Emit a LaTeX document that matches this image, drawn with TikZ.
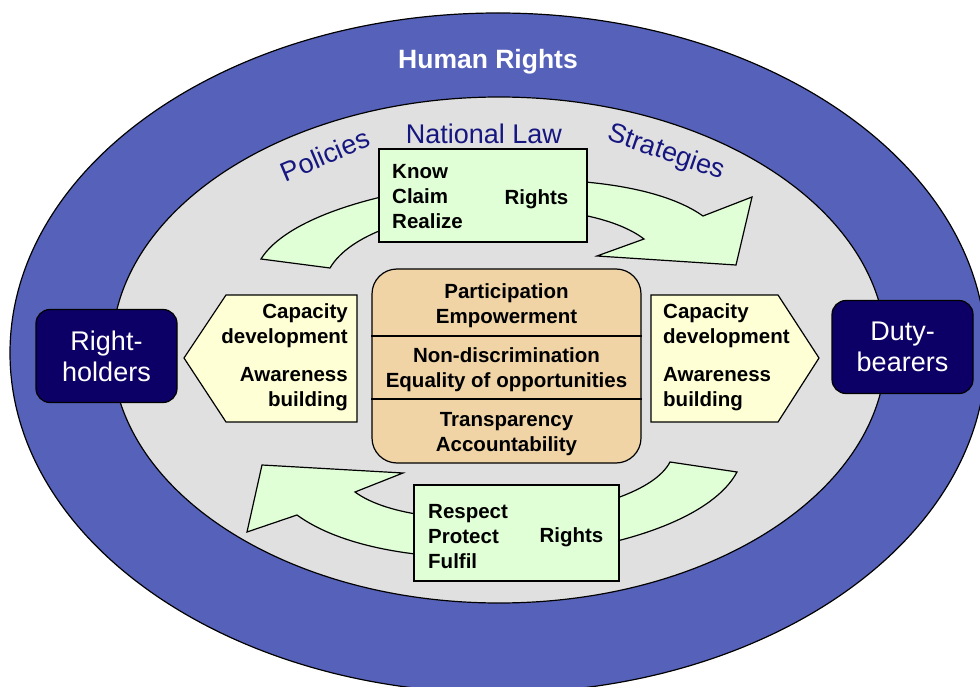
\documentclass[tikz,border=0pt]{standalone}
\usepackage{fontspec}
\setmainfont{Liberation Sans}
\usepackage{xcolor}
\definecolor{hrblue}{RGB}{86,98,186}
\definecolor{hrgray}{RGB}{224,224,224}
\definecolor{hrgreen}{RGB}{224,255,214}
\definecolor{hrsand}{RGB}{240,212,166}
\definecolor{hrcream}{RGB}{255,255,213}
\definecolor{hrnavy}{RGB}{12,0,102}
\definecolor{hrink}{RGB}{22,22,128}

\tikzset{
  body/.style={font=\fontsize{20.5}{25}\selectfont\bfseries, inner sep=0pt},
  band/.style={draw, fill=hrgreen, line width=1.2pt},
  rightsbox/.style={draw, fill=hrgreen, line width=1.2pt, inner sep=0pt},
  actor/.style={draw, fill=hrnavy, text=white, rounded corners=14pt, line width=1.2pt,
    minimum width=141pt, minimum height=93pt, align=center, inner sep=0pt,
    font=\fontsize{27}{31}\selectfont},
  frame/.style={font=\fontsize{27}{30}\selectfont, text=hrink, inner sep=0pt}
}

\begin{document}
\begin{tikzpicture}[x=1pt,y=-1pt]
                \clip (0,0) rectangle (980,687);
                \fill[white] (0,0) rectangle (980,687);

                % rings
                \draw[fill=hrblue, line width=1.2pt] (498,353) ellipse [x radius=488pt, y radius=340pt];
                \draw[fill=hrgray, line width=1.2pt] (499,350) ellipse [x radius=387pt, y radius=253pt];

                \node[font=\fontsize{26.5}{30}\selectfont\bfseries, text=white, inner sep=0pt] (hr) at (488,62) {Human Rights};
                \node[frame] (law) at (484,134) {National Law};
                \node[frame, rotate=23] (policies) at (325,155) {Policies};
                \node[frame, rotate=-19] (strategies) at (666,153) {Strategies};

                % cycle arrows
                \draw[band] (261,259) .. controls (310,180) and (610,150) .. (703,216) -- (752,197) -- (736,265)
                    -- (597,256) -- (644,239) .. controls (580,190) and (370,200) .. (330,268) -- cycle;
                \draw[band] (737,472) .. controls (690,560) and (400,590) .. (297,515) -- (247,532) -- (262,465)
                    -- (403,473) -- (355,492) .. controls (420,540) and (640,520) .. (670,462) -- cycle;

                \node[rightsbox, minimum width=208pt, minimum height=93pt] (know) at (483,195.5) {};
                \node[body, anchor=west, align=left] (knowtxt) at (392,197) {Know\\Claim\\Realize};
                \node[body] (knowrights) at (536.5,199) {Rights};

                \node[rightsbox, minimum width=205pt, minimum height=96pt] (respect) at (516.5,533) {};
                \node[body, anchor=west, align=left] (respecttxt) at (428,537) {Respect\\Protect\\Fulfil};
                \node[body] (respectrights) at (571.5,537) {Rights};

                % principles
                \node[draw, fill=hrsand, rounded corners=25pt, line width=1.2pt, minimum width=269pt, minimum height=194pt] (core) at (506.5,366) {};
                \draw[line width=1.2pt] (core.west |- 0,336) -- (core.east |- 0,336);
                \draw[line width=1.2pt] (core.west |- 0,399) -- (core.east |- 0,399);
                \node[body, align=center] (particip) at (506.5,306) {Participation\\Empowerment};
                \node[body, align=center] (nondisc) at (506.5,370) {Non-discrimination\\Equality of opportunities};
                \node[body, align=center] (transp) at (506.5,434) {Transparency\\Accountability};

                % capacity arrows
                \draw[fill=hrcream, line width=1.2pt] (357,295) -- (226,295) -- (184,358) -- (226,422) -- (357,422) -- cycle;
                \node[body, anchor=east, align=right] (capleft) at (348,326) {Capacity\\development};
                \node[body, anchor=east, align=right] (awareleft) at (348,389) {Awareness\\building};

                \draw[fill=hrcream, line width=1.2pt] (651,295) -- (778,295) -- (819,358) -- (778,422) -- (651,422) -- cycle;
                \node[body, anchor=west, align=left] (capright) at (663,326) {Capacity\\development};
                \node[body, anchor=west, align=left] (awareright) at (663,389) {Awareness\\building};

                \node[actor] (holders) at (106.5,356) {Right-\\holders};
                \node[actor] (bearers) at (902.5,347) {Duty-\\bearers};
            \end{tikzpicture}
\end{document}
